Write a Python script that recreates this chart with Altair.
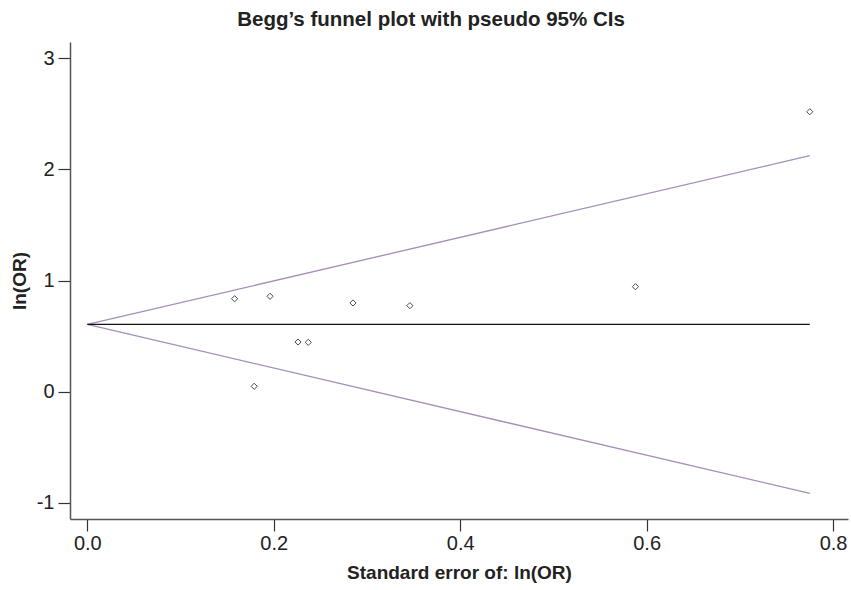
import altair as alt
import pandas as pd

# Study points (standard error of ln(OR), ln(OR))
se = [0.158, 0.179, 0.196, 0.226, 0.237, 0.285, 0.346, 0.588, 0.775]
lnor = [0.836, 0.049, 0.858, 0.447, 0.444, 0.798, 0.774, 0.944, 2.517]

# Pseudo 95% CI lines and pooled estimate (end points)
line_se = [0.0, 0.775]
upper = [0.605, 2.122]
lower = [0.605, -0.913]
pooled = [0.605, 0.605]

x_ticks = [0.0, 0.2, 0.4, 0.6, 0.8]
y_ticks = [-1, 0, 1, 2, 3]

pts = pd.DataFrame({"se": se, "lnor": lnor})
lines = pd.DataFrame({
    "se": line_se * 3,
    "val": upper + lower + pooled,
    "grp": ["upper"] * 2 + ["lower"] * 2 + ["pooled"] * 2,
})

FONT = "Liberation Sans"

x = alt.X("se:Q", scale=alt.Scale(domain=[-0.0186, 0.816], nice=False, zero=False),
          axis=alt.Axis(values=x_ticks, format=".1f", labelPadding=2, titlePadding=10,
                        title="Standard error of: ln(OR)"))

ci = alt.Chart(lines).transform_filter("datum.grp != 'pooled'").mark_line(
    color="#a58fb8", strokeWidth=1.3).encode(
    x=x,
    y=alt.Y("val:Q", scale=alt.Scale(domain=[-1.144, 3.144], nice=False, zero=False),
            axis=alt.Axis(values=y_ticks, labelExpr="'' + datum.value", labelPadding=4,
                          titlePadding=7, title="ln(OR)")),
    detail="grp:N",
)

pool = alt.Chart(lines).transform_filter("datum.grp == 'pooled'").mark_line(
    color="#111111", strokeWidth=1.3).encode(x="se:Q", y="val:Q")

points = alt.Chart(pts).mark_point(shape="diamond", filled=False, color="black",
                                   size=38, strokeWidth=1).encode(x="se:Q", y="lnor:Q")

chart = alt.layer(ci, pool, points).properties(
    width=778, height=477,
    autosize=alt.AutoSizeParams(type="none"),
    padding={"left": 70, "top": 42, "right": 3, "bottom": 71},
    title=alt.TitleParams("Begg\u2019s funnel plot with pseudo 95% CIs", font=FONT,
                          fontSize=20.5, fontWeight="bold", color="#222222",
                          anchor="middle", dx=-28, offset=12),
).configure_view(stroke=None).configure_axis(
    grid=False, domainColor="#555555", tickColor="#333333", tickSize=12,
    labelFont=FONT, labelFontSize=20, labelColor="#222222",
    titleFont=FONT, titleFontSize=19, titleFontWeight="bold", titleColor="#222222",
    domainWidth=1.5, tickWidth=1.2,
)

chart.save("out.html", embed_options={"renderer": "svg", "actions": False})
